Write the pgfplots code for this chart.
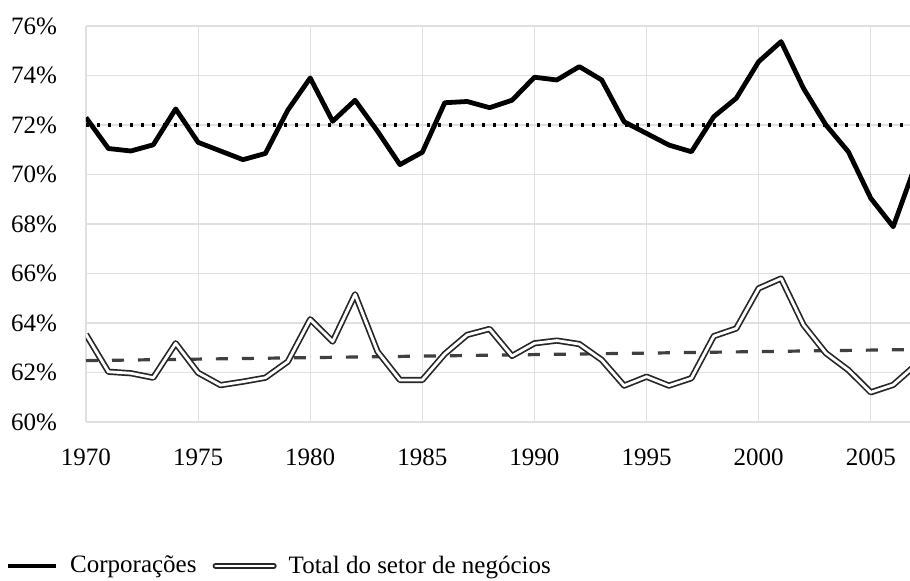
\documentclass[border=0pt]{standalone}
\usepackage{pgfplots}
\pgfplotsset{compat=1.18}
\usepackage{fontspec}
\setmainfont{Liberation Serif}
\begin{document}
\begin{tikzpicture}
\path[use as bounding box] (-43pt,-79pt) rectangle (412pt,211pt);
\begin{axis}[
  at={(0,0)}, anchor=south west,
  scale only axis,
  width=412pt, height=198pt,
  xmin=1970, xmax=2006.75,
  ymin=60, ymax=76,
  xtick={1970,1975,...,2005},
  ytick={60,62,...,76},
  grid=major,
  major grid style={draw=black!12, line width=0.6pt},
  axis line style={draw=none},
  tick style={draw=none},
  xticklabel style={font=\fontsize{12.5}{14}\selectfont, yshift=-4pt},
  yticklabel style={font=\fontsize{12.5}{14}\selectfont, xshift=-3pt},
  /pgf/number format/assume math mode=true,
  xticklabel={\pgfmathprintnumber[1000 sep={}]{\tick}},
  yticklabel={\pgfmathprintnumber{\tick}\%},
  xtick pos=bottom, ytick pos=left,
  xticklabel shift=6pt,
  yticklabel shift=8pt,
  legend columns=2,
  legend style={at={(axis description cs:-0.0983,-0.3636)}, anchor=west, draw=none, fill=none, inner sep=0pt,
    font=\fontsize{12.5}{14}\selectfont,
    /tikz/every odd column/.append style={column sep=4pt},
    /tikz/every even column/.append style={column sep=6pt}},
]
\addplot[black!75, line width=1.6pt, dash pattern=on 6pt off 7pt, forget plot] coordinates {(1970,62.48) (2007,62.93)};
\addplot[black, line width=1.6pt, dash pattern=on 1.6pt off 3.9pt, forget plot] coordinates {(1970,72.0) (2007,72.0)};
\addplot[black, line width=2.4pt, line join=round,
  legend image code/.code={\draw[black, line width=2.4pt] (0pt,0pt) -- (24pt,0pt);}] coordinates {
(1970,72.3) (1971,71.05) (1972,70.95) (1973,71.2) (1974,72.65) (1975,71.3)
(1976,70.95) (1977,70.6) (1978,70.85) (1979,72.6) (1980,73.9) (1981,72.15)
(1982,73.0) (1983,71.75) (1984,70.4) (1985,70.9) (1986,72.9) (1987,72.95)
(1988,72.7) (1989,73.0) (1990,73.93) (1991,73.82) (1992,74.36) (1993,73.82)
(1994,72.13) (1995,71.66) (1996,71.19) (1997,70.92) (1998,72.34) (1999,73.08)
(2000,74.56) (2001,75.37) (2002,73.48) (2003,72.0) (2004,70.92) (2005,69.04)
(2006,67.89) (2007,70.4)};
\addlegendentry{Corporações}
\addplot[black!85, line width=0.85pt, double=white, double distance=1.4pt, line join=round,
  legend image code/.code={\draw[black!85, line width=0.85pt, double=white, double distance=1.4pt, line cap=round] (0pt,0pt) -- (29pt,0pt);}] coordinates {
(1970,63.54) (1971,62.03) (1972,61.97) (1973,61.79) (1974,63.18) (1975,61.99)
(1976,61.49) (1977,61.63) (1978,61.79) (1979,62.44) (1980,64.15) (1981,63.25)
(1982,65.16) (1983,62.85) (1984,61.7) (1985,61.7) (1986,62.75) (1987,63.52)
(1988,63.76) (1989,62.67) (1990,63.18) (1991,63.29) (1992,63.15) (1993,62.51)
(1994,61.47) (1995,61.83) (1996,61.47) (1997,61.77) (1998,63.47) (1999,63.78)
(2000,65.4) (2001,65.8) (2002,63.92) (2003,62.78) (2004,62.1) (2005,61.2)
(2006,61.5) (2007,62.3)};
\addlegendentry{Total do setor de negócios}
\end{axis}
\end{tikzpicture}
\end{document}
